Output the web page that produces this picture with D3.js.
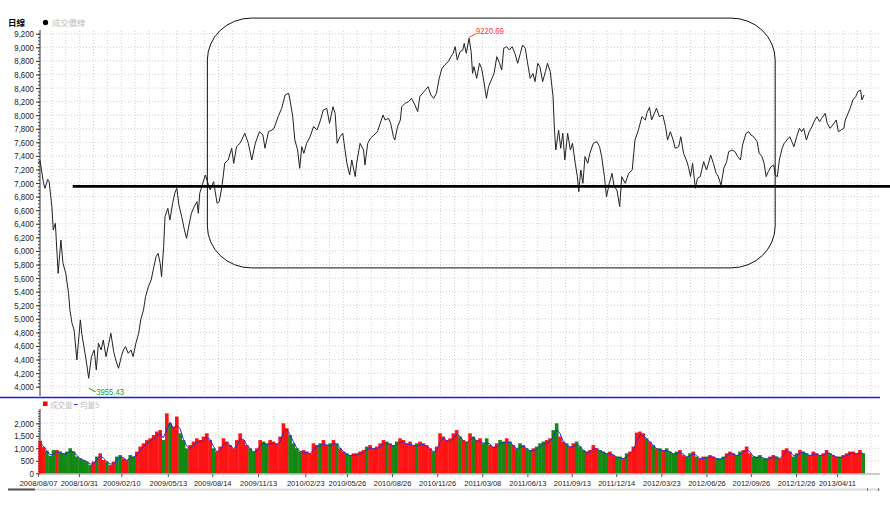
<!DOCTYPE html>
<html><head><meta charset="utf-8">
<script src="https://cdn.jsdelivr.net/npm/d3@7"></script>
<style>
html,body{margin:0;padding:0;background:#fff;}
svg{display:block;}
</style></head><body>
<svg id="c" width="890" height="509"></svg>
<script>
// ---------------- DATA ----------------
// closing-price readings: trading-day index from 2008/08/07, and index value
const priceBars = [0,3,8,10,14,16,20,22,25,29,33,36,40,44,46,49,52,56,61,63,67,70,73,77,81,84,87,91,94,98,101,105,109,112,116,120,123,126,130,134,137,141,145,148,152,155,159,163,166,170,173,176,178,181,183,187,190,194,197,200,203,207,211,214,218,221,225,229,231,
233,241,248,253,258,261,265,269,274,279,282,286,291,298,303,308,313,319,324,327,332,337,340,346,351,356,361,363,367,370,374,377,380,383,387,392,397,402,407,411,416,420,425,428,431,435,439,441,445,449,452,457,459,464,469,471,475,479,484,489,493,497,500,505,508,512,514,518,522,524,529,534,538,543,547,550,556,562,566,570,574,578,
582,586,591,595,598,601,604,608,612,614,617,621,624,626,628,632,636,639,642,646,649,654,657,661,665,668,671,675,679,683,687,691,695,698,702,705,709,713,716,720,723,727,731,734,738,742,744,746,750,753,756,759,763,767,770,774,777,779,782,785,788,792,795,800,805,809,812,816,819,823,827,830,834,838,841,846,851,856,860,865,870,875,877,881,884,888,891,895,
900,904,907,911,915,918,923,926,930,934,937,940,943,947,950,954,959,963,966,969,973,977,980,984,988,992,995,1000,1004,1008,1012,1015,1020,1024,1027,1031,1036,1039,1043,1046,1049,1052,1056,1060,1062,1065,1068,1072,1075,1079,1083,1086,1089,1093,1097,1100,1103,1107,1111,1115,1118,1122,1126,1129,1134,1137,1141,1145,1150,1153,1157,1161,1163,1167,1170,1174,1178,1181,1185,1187,1190];
const priceVals = [7295,7330,6996,6923,7055,7020,6652,6310,6407,5670,6161,5818,5670,5376,5130,4934,4836,4394,4984,4787,4541,4345,4124,4442,4541,4247,4640,4541,4688,4442,4590,4787,4517,4394,4271,4442,4541,4590,4492,4541,4442,4640,4787,4984,5130,5326,5473,5572,5720,5915,5965,5818,5621,6063,6505,6628,6456,6702,6849,6923,6677,6505,6308,6186,6407,6554,6652,6726,6554,
6850,7119,6898,7020,6702,6726,6947,7291,7340,7512,7291,7536,7585,7733,7585,7340,7585,7757,7708,7512,7757,7782,7806,7978,8101,8297,8322,8224,7978,7634,7487,7217,7536,7438,7585,7683,7831,7782,7929,8076,8101,7880,8125,8027,7585,7683,7733,7585,7291,7119,7340,7094,7291,7585,7487,7266,7585,7659,7708,7757,7880,8002,7929,7953,7880,7683,7634,7831,7929,8125,8175,8199,8248,8150,8052,8272,8346,8419,8297,8248,8322,8543,
8690,8739,8788,8862,8911,9009,8813,8936,8960,9058,8911,9132,8936,8616,8715,8543,8764,8690,8518,8248,8419,8543,8616,8862,8764,8665,8985,9009,8960,9009,8911,8764,8911,9034,8985,8788,8543,8616,8494,8764,8715,8494,8641,8764,8641,8272,7782,7487,7782,7512,7733,7340,7733,7487,7585,7291,7094,6873,7192,6996,7389,7291,7438,7585,7610,7536,7389,7094,6799,6996,7143,6947,6898,6652,7094,6996,7143,7192,7634,7782,7978,7929,8027,8116,7929,8027,8101,7978,
8002,7831,7634,7757,7634,7512,7536,7683,7438,7340,7242,7094,7291,6923,7070,7094,7315,7192,7291,7414,7291,7143,7094,6972,7217,7315,7463,7487,7463,7389,7340,7561,7733,7757,7708,7683,7610,7438,7389,7291,7094,7168,7242,7266,7119,7094,7340,7512,7585,7634,7683,7610,7536,7683,7806,7757,7806,7634,7757,7831,7904,7978,7904,7953,8027,7880,7806,7855,7929,7757,7782,7806,7929,8027,8101,8224,8272,8346,8370,8224,8297];

// trading volume (億), one reading per group of days, in time order
const volValues = [
1300,1050,900,700,930,930,870,800,870,1000,870,670,600,530,470,330,470,670,800,530,470,330,470,670,730,600,530,730,670,870,1070,1200,1330,1400,1530,1670,1730,1330,2400,2000,1870,2270,1600,1330,1000,1130,1270,1400,1330,1470,1600,1330,1000,870,1070,1400,1270,1130,1000,1330,1600,1330,1130,1000,870,1000,1330,1270,1200,1330,1270,1200,1470,2000,1800,1530,
1200,1000,870,930,870,800,1200,1130,1200,1330,1130,1200,1330,1200,1000,870,800,730,800,800,870,930,1070,1130,1000,1070,1200,1330,1270,1200,1130,1270,1400,1330,1200,1270,1130,1200,1270,1200,1130,1000,870,1070,1600,1470,1330,1400,1600,1730,1470,1330,1270,1600,1470,1330,1400,1200,1400,1130,1070,1200,1330,1270,1400,1270,1130,1000,1200,1130,1000,930,1000,1070,1200,1270,1330,1400,1730,2000,1470,1270,1200,1070,1200,1270,1070,930,
870,930,1130,1000,930,870,800,870,730,670,670,600,800,870,1070,1630,1670,1600,1400,1270,1130,1000,1000,930,1000,870,800,870,930,730,670,800,870,670,600,670,670,730,670,600,600,670,800,870,800,730,870,930,1070,800,670,670,730,600,600,670,730,670,600,930,1000,870,670,800,930,870,800,730,870,800,730,800,930,800,730,670,670,730,800,870,870,800,930,800];

const xTickBars = [0,59,120,187,251,317,385,445,510,575,640,705,769,833,898,963,1027,1092,1151];
const xTickLabels = ["2008/08/07","2008/10/31","2009/02/10","2009/05/13","2009/08/14","2009/11/13","2010/02/23","2010/05/26","2010/08/26","2010/11/26","2011/03/08","2011/06/13","2011/09/13","2011/12/14","2012/03/23","2012/06/26","2012/09/26","2012/12/26","2013/04/11"];
const priceTicks = d3.range(4000, 9201, 200);
const volTicks = [0, 500, 1000, 1500, 2000];
const highMark = {bar: 621, value: 9220.69, label: "9220.69"};
const lowMark = {bar: 73, value: 3955.43, label: "3955.43"};
const supportLevel = 6950, supportFromBar = 50;
const boxBars = [244, 1062], boxVals = [5750, 9430];

// ---------------- LAYOUT ----------------
const svg = d3.select('#c');
const fNum = '"Liberation Sans",Arial,sans-serif';
const fCJK = '"Noto Sans CJK TC","Noto Sans CJK SC",sans-serif';
const x = d3.scaleLinear().domain([0, 1213]).range([38, 880]);
const yP = d3.scaleLinear().domain([4000, 9200]).range([386.7, 33.7]);
const yV = d3.scaleLinear().domain([0, 2000]).range([473.3, 423.3]);
const volStart = 3, volStep = 4.8;
const volBars = volValues.map((v, i) => volStart + i * volStep);

function condense(sel, ratio) {
  sel.each(function () {
    const w = this.getComputedTextLength();
    d3.select(this).attr('textLength', (w * ratio).toFixed(2)).attr('lengthAdjust', 'spacingAndGlyphs');
  });
}

const gridColor = '#d6cdd6';
const g = svg.append('g');

// grids
const vGridBars = d3.range(20, 1213, 20);
g.selectAll('.vgp').data(vGridBars).join('line')
  .attr('x1', d => x(d)).attr('x2', d => x(d)).attr('y1', 31).attr('y2', 395)
  .attr('stroke', gridColor).attr('stroke-dasharray', '1,2');
g.selectAll('.vgv').data(vGridBars).join('line')
  .attr('x1', d => x(d)).attr('x2', d => x(d)).attr('y1', 410).attr('y2', 473)
  .attr('stroke', gridColor).attr('stroke-dasharray', '1,2');
g.selectAll('.hgp').data(priceTicks).join('line')
  .attr('x1', 41).attr('x2', 880).attr('y1', d => yP(d)).attr('y2', d => yP(d))
  .attr('stroke', gridColor).attr('stroke-dasharray', '1,2');
g.selectAll('.hgv').data(volTicks.slice(1)).join('line')
  .attr('x1', 41).attr('x2', 880).attr('y1', d => yV(d)).attr('y2', d => yV(d))
  .attr('stroke', gridColor).attr('stroke-dasharray', '1,2');

// price y axis
const axP = d3.axisLeft(yP).tickValues(priceTicks).tickFormat(d3.format(',')).tickSize(4).tickPadding(2);
const gP = svg.append('g').attr('transform', 'translate(40,0)').call(axP);
gP.select('.domain').attr('d', `M0,30V396`).attr('stroke', '#333');
gP.selectAll('.tick line').attr('stroke', '#333');
gP.selectAll('text').attr('font-family', fNum).attr('font-size', 9.4).attr('fill', '#222').call(condense, 0.84);
svg.append('g').selectAll('line').data(d3.range(4000, 9250, 50)).join('line')
  .attr('x1', 38).attr('x2', 40).attr('y1', d => yP(d) + 0.5).attr('y2', d => yP(d) + 0.5).attr('stroke', '#444');

// volume y axis
const axV = d3.axisLeft(yV).tickValues(volTicks).tickFormat(d3.format(',')).tickSize(4).tickPadding(2);
const gV = svg.append('g').attr('transform', 'translate(40,0)').call(axV);
gV.select('.domain').attr('d', `M0,409V474`).attr('stroke', '#333');
gV.selectAll('.tick line').attr('stroke', '#333');
gV.selectAll('text').attr('font-family', fNum).attr('font-size', 9.2).attr('fill', '#222').call(condense, 0.86);
svg.append('g').selectAll('line').data(d3.range(0, 2600, 100)).join('line')
  .attr('x1', 38).attr('x2', 40).attr('y1', d => yV(d) + 0.5).attr('y2', d => yV(d) + 0.5).attr('stroke', '#444');

// x axis
const axX = d3.axisBottom(x).tickValues(xTickBars).tickFormat((d, i) => xTickLabels[i]).tickSize(3).tickPadding(3);
const gX = svg.append('g').attr('transform', 'translate(0,474)').call(axX);
gX.select('.domain').attr('d', 'M38,0H880').attr('stroke', '#999');
gX.selectAll('.tick line').attr('stroke', '#555');
gX.selectAll('text').attr('font-family', fNum).attr('font-size', 8).attr('fill', '#222').call(condense, 0.94);

// scroll strip
svg.append('line').attr('x1', 8).attr('x2', 880).attr('y1', 489.5).attr('y2', 489.5).attr('stroke', '#dcdcdc').attr('stroke-width', 2);
svg.append('line').attr('x1', 8).attr('x2', 35).attr('y1', 489.5).attr('y2', 489.5).attr('stroke', '#555').attr('stroke-width', 2);
[867, 878].forEach(px => svg.append('rect').attr('x', px).attr('y', 488.5).attr('width', 1).attr('height', 2).attr('fill', '#444'));

// volume bars: red when the price reading rose versus the previous one, green otherwise
const priceIdxAt = b => Math.max(0, d3.bisectRight(priceBars, b) - 1);
const isUp = b => { const i = priceIdxAt(b); return i === 0 || priceVals[i] >= priceVals[i - 1]; };
const bw = x(volStep) - x(0);
svg.append('g').selectAll('rect').data(volValues).join('rect')
  .attr('x', (d, i) => x(volBars[i]) - bw / 2)
  .attr('width', bw + 0.3)
  .attr('y', d => yV(d))
  .attr('height', d => yV(0) - yV(d))
  .attr('fill', (d, i) => isUp(volBars[i]) ? '#ff0000' : '#008000')
  .attr('fill-opacity', 0.92);

// MA line
const ma = volValues.map((v, i) => i === 0 ? v : (v + volValues[i - 1]) / 2);
svg.append('path').datum(ma)
  .attr('d', d3.line().x((d, i) => x(volBars[i])).y(d => yV(d * 0.93)))
  .attr('fill', 'none').attr('stroke', '#2b2bd9').attr('stroke-width', 1);

// price line
svg.append('path').datum(priceBars.map((b, i) => [b, priceVals[i]]))
  .attr('d', d3.line().x(d => x(d[0])).y(d => yP(d[1])))
  .attr('fill', 'none').attr('stroke', '#222').attr('stroke-width', 1);

// support line
svg.append('line').attr('x1', x(supportFromBar)).attr('x2', 890)
  .attr('y1', yP(supportLevel)).attr('y2', yP(supportLevel))
  .attr('stroke', '#000').attr('stroke-width', 2.7);

// rounded box
svg.append('rect').attr('x', x(boxBars[0])).attr('y', yP(boxVals[1]))
  .attr('width', x(boxBars[1]) - x(boxBars[0])).attr('height', yP(boxVals[0]) - yP(boxVals[1]))
  .attr('rx', 44).attr('ry', 42).attr('fill', 'none').attr('stroke', '#111').attr('stroke-width', 1);

// high / low annotations
const hx = x(highMark.bar), hy = yP(highMark.value);
svg.append('line').attr('x1', hx).attr('y1', hy + 5).attr('x2', hx + 7).attr('y2', hy + 1.5).attr('stroke', '#ff4040');
svg.append('text').attr('x', hx + 7).attr('y', hy + 1.5).text(highMark.label)
  .attr('font-family', fNum).attr('font-size', 9.4).attr('fill', '#ff3030').call(condense, 0.82);
const lx = x(lowMark.bar), ly = yP(lowMark.value);
svg.append('line').attr('x1', lx).attr('y1', ly - 1.5).attr('x2', lx + 7).attr('y2', ly + 2).attr('stroke', '#20a020');
svg.append('text').attr('x', lx + 7.5).attr('y', ly + 5.5).text(lowMark.label)
  .attr('font-family', fNum).attr('font-size', 9.4).attr('fill', '#20a020').call(condense, 0.82);

// separator
svg.append('line').attr('x1', 0).attr('x2', 880).attr('y1', 397.5).attr('y2', 397.5).attr('stroke', '#1a1ae6').attr('stroke-width', 1.5);

// titles / legends
svg.append('text').attr('x', 8).attr('y', 26).text('日線').attr('font-family', fCJK).attr('font-size', 8.5).attr('font-weight', 700).attr('fill', '#000');
svg.append('path').attr('d', d3.symbol().type(d3.symbolCircle).size(22)()).attr('transform', 'translate(45.5,22.5)').attr('fill', '#000');
svg.append('text').attr('x', 52).attr('y', 26).text('成交價線').attr('font-family', fCJK).attr('font-size', 8.3).attr('fill', '#bdbdbd');
svg.append('rect').attr('x', 43).attr('y', 401.5).attr('width', 4.5).attr('height', 4.5).attr('fill', '#ff0000');
svg.append('text').attr('x', 50).attr('y', 408).text('成交量').attr('font-family', fCJK).attr('font-size', 7.5).attr('fill', '#bdbdbd');
svg.append('line').attr('x1', 74).attr('x2', 77.5).attr('y1', 404.5).attr('y2', 404.5).attr('stroke', '#2b2bd9');
svg.append('text').attr('x', 80).attr('y', 408).text('均量5').attr('font-family', fCJK).attr('font-size', 7.5).attr('fill', '#bdbdbd');
</script>
</body></html>
